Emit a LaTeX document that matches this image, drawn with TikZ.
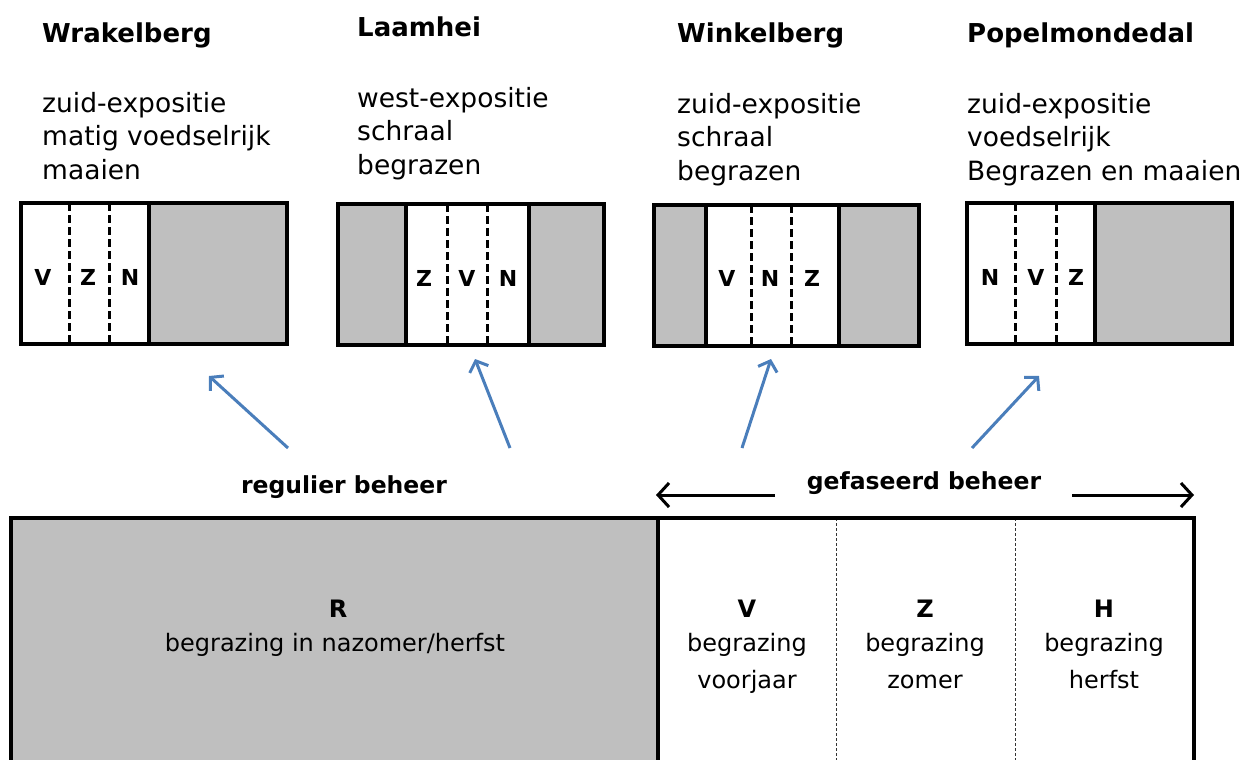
\documentclass[tikz,border=0pt]{standalone}
\usepackage{fontspec}
\setmainfont{DejaVu Sans}
\usetikzlibrary{arrows.meta}
\definecolor{fillgray}{HTML}{BFBFBF}
\definecolor{arrblue}{HTML}{4A7EBB}
\begin{document}
\begin{tikzpicture}[x=1pt,y=-1pt,
  frame/.style={draw=black,line width=3.5pt},
  bigframe/.style={draw=black,line width=4pt},
  grayfill/.style={fill=fillgray},
  dashsep/.style={draw=black,line width=3pt,dash pattern=on 8pt off 4pt},
  thinsep/.style={draw=black!80,line width=0.8pt,dash pattern=on 3pt off 2pt},
  letter/.style={font=\fontsize{22}{22}\selectfont\bfseries,inner sep=0pt,anchor=center},
  title/.style={font=\fontsize{26}{26}\selectfont\bfseries,inner sep=0pt,anchor=base west},
  info/.style={font=\fontsize{26.5}{26.5}\selectfont,inner sep=0pt,anchor=base west},
  label/.style={font=\fontsize{23.5}{23.5}\selectfont\bfseries,inner sep=0pt,anchor=base},
  bighead/.style={font=\fontsize{24}{24}\selectfont\bfseries,inner sep=0pt,anchor=base},
  bigtext/.style={font=\fontsize{24}{24}\selectfont,inner sep=0pt,anchor=base},
  bluearrow/.style={draw=arrblue,line width=3pt,-{Straight Barb[length=9pt,width=20pt,line width=3pt]}},
  blackarrow/.style={draw=black,line width=3pt,-{Straight Barb[length=11pt,width=24pt,line width=3pt]}}
]
\useasboundingbox (0,0) rectangle (1242,760);

% ---- titles and descriptions ----
\node[title] (t1) at (42,43) {Wrakelberg};
\node[title] (t2) at (357,37) {Laamhei};
\node[title] (t3) at (677,43) {Winkelberg};
\node[title] (t4) at (967,43) {Popelmondedal};

\node[info] (d1a) at (42,112) {zuid-expositie};
\node[info] (d1b) at (42,145) {matig voedselrijk};
\node[info] (d1c) at (42,179) {maaien};
\node[info] (d2a) at (357,107) {west-expositie};
\node[info] (d2b) at (357,140) {schraal};
\node[info] (d2c) at (357,174) {begrazen};
\node[info] (d3a) at (677,113) {zuid-expositie};
\node[info] (d3b) at (677,146) {schraal};
\node[info] (d3c) at (677,180) {begrazen};
\node[info] (d4a) at (967,113) {zuid-expositie};
\node[info] (d4b) at (967,146) {voedselrijk};
\node[info] (d4c) at (967,180) {Begrazen en maaien};

% ---- small box 1 (Wrakelberg) ----
\fill[grayfill] (149,203) rectangle (287,344);
\draw[dashsep] (69,203) -- (69,344);
\draw[dashsep] (109,203) -- (109,344);
\draw[frame] (149,203) -- (149,344);
\draw[frame] (21,203) rectangle (287,344);
\node[letter] (b1v) at (43,277) {V};
\node[letter] (b1z) at (88,277) {Z};
\node[letter] (b1n) at (130,277) {N};

% ---- small box 2 (Laamhei) ----
\fill[grayfill] (338,204) rectangle (406,345);
\fill[grayfill] (529,204) rectangle (604,345);
\draw[dashsep] (447,204) -- (447,345);
\draw[dashsep] (487,204) -- (487,345);
\draw[frame] (406,204) -- (406,345);
\draw[frame] (529,204) -- (529,345);
\draw[frame] (338,204) rectangle (604,345);
\node[letter] (b2z) at (424,278) {Z};
\node[letter] (b2v) at (467,278) {V};
\node[letter] (b2n) at (508,278) {N};

% ---- small box 3 (Winkelberg) ----
\fill[grayfill] (654,205) rectangle (706,346);
\fill[grayfill] (839,205) rectangle (919,346);
\draw[dashsep] (751,205) -- (751,346);
\draw[dashsep] (791,205) -- (791,346);
\draw[frame] (706,205) -- (706,346);
\draw[frame] (839,205) -- (839,346);
\draw[frame] (654,205) rectangle (919,346);
\node[letter] (b3v) at (727,278) {V};
\node[letter] (b3n) at (770,278) {N};
\node[letter] (b3z) at (812,278) {Z};

% ---- small box 4 (Popelmondedal) ----
\fill[grayfill] (1095,203) rectangle (1232,344);
\draw[dashsep] (1015,203) -- (1015,344);
\draw[dashsep] (1056,203) -- (1056,344);
\draw[frame] (1095,203) -- (1095,344);
\draw[frame] (967,203) rectangle (1232,344);
\node[letter] (b4n) at (990,277) {N};
\node[letter] (b4v) at (1036,277) {V};
\node[letter] (b4z) at (1076,277) {Z};

% ---- blue arrows ----
\coordinate (a1s) at (288,448); \coordinate (a1e) at (209,376);
\coordinate (a2s) at (510,448); \coordinate (a2e) at (475,359);
\coordinate (a3s) at (742,448); \coordinate (a3e) at (771,359);
\coordinate (a4s) at (972,448); \coordinate (a4e) at (1039,376);
\draw[bluearrow] (a1s) -- (a1e);
\draw[bluearrow] (a2s) -- (a2e);
\draw[bluearrow] (a3s) -- (a3e);
\draw[bluearrow] (a4s) -- (a4e);

% ---- labels and black arrows ----
\node[label] (reg) at (344,493) {regulier beheer};
\node[label] (gef) at (924,489) {gefaseerd beheer};
\coordinate (la) at (775,495); \coordinate (lb) at (656,495);
\coordinate (ra) at (1072,495); \coordinate (rb) at (1194,495);
\draw[blackarrow] (la) -- (lb);
\draw[blackarrow] (ra) -- (rb);

% ---- bottom box ----
\fill[grayfill] (11,518) rectangle (658,790);
\draw[thinsep] (836,518) -- (836,790);
\draw[thinsep] (1015,518) -- (1015,790);
\draw[bigframe] (658,518) -- (658,790);
\draw[bigframe] (11,790) -- (11,518) -- (1194,518) -- (1194,790);

\node[bighead] (r) at (338,617) {R};
\node[bigtext] (rt) at (335,651) {begrazing in nazomer/herfst};
\node[bighead] (v) at (747,617) {V};
\node[bigtext] (vt1) at (747,651) {begrazing};
\node[bigtext] (vt2) at (747,688) {voorjaar};
\node[bighead] (z) at (925,617) {Z};
\node[bigtext] (zt1) at (925,651) {begrazing};
\node[bigtext] (zt2) at (925,688) {zomer};
\node[bighead] (h) at (1104,617) {H};
\node[bigtext] (ht1) at (1104,651) {begrazing};
\node[bigtext] (ht2) at (1104,688) {herfst};
\end{tikzpicture}
\end{document}
